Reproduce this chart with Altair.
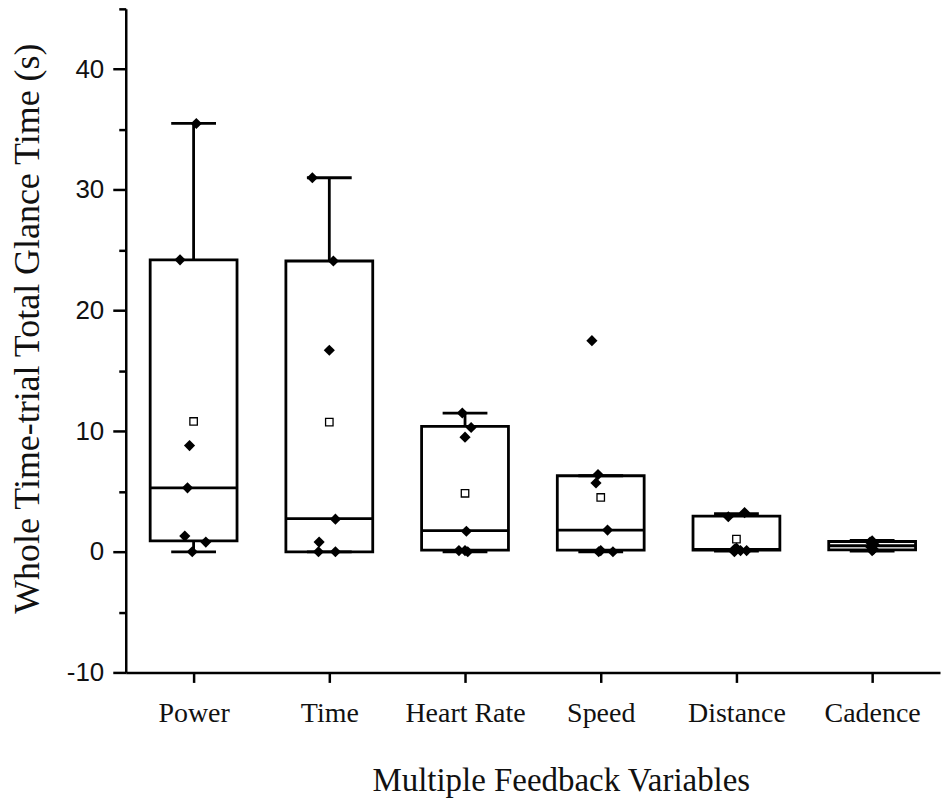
import altair as alt
import pandas as pd
import json

categories = ["Power", "Time", "Heart Rate", "Speed", "Distance", "Cadence"]
whisker_low = [0.0, 0.0, 0.0, 0.0, 0.05, 0.05]
q1 = [0.9, 0.0, 0.14, 0.14, 0.14, 0.15]
median = [5.3, 2.75, 1.75, 1.8, 0.2, 0.5]
q3 = [24.2, 24.1, 10.4, 6.3, 2.95, 0.85]
whisker_high = [35.5, 31.0, 11.5, 6.3, 3.15, 0.95]
mean = [10.8, 10.75, 4.85, 4.5, 1.05, 0.5]

# individual observations (value, horizontal jitter as fraction of category step)
pt_cat = (["Power"] * 7 + ["Time"] * 7 + ["Heart Rate"] * 7 + ["Speed"] * 7
          + ["Distance"] * 7 + ["Cadence"] * 7)
pt_val = [35.5, 24.2, 8.8, 5.3, 1.3, 0.8, 0.0,
          31.0, 24.1, 16.7, 2.7, 0.8, 0.0, 0.0,
          11.5, 10.3, 9.5, 1.7, 0.1, 0.1, 0.0,
          17.5, 6.4, 5.7, 1.8, 0.1, 0.0, 0.0,
          3.25, 2.9, 0.3, 0.2, 0.1, 0.1, 0.0,
          0.9, 0.8, 0.6, 0.5, 0.4, 0.2, 0.1]
pt_jit = [0.02, -0.10, -0.03, -0.045, -0.065, 0.09, -0.01,
          -0.125, 0.03, 0.0, 0.045, -0.075, -0.08, 0.045,
          -0.02, 0.045, 0.0, 0.01, -0.045, 0.0, 0.02,
          -0.065, -0.02, -0.035, 0.05, 0.0, 0.09, -0.015,
          0.06, -0.06, 0.0, -0.015, 0.075, 0.03, -0.015,
          0.0, -0.015, 0.015, 0.0, -0.01, 0.01, 0.0]

major_ticks = [-10, 0, 10, 20, 30, 40]
minor_ticks = [-5, 5, 15, 25, 35, 45]

idx_of = {c: i for i, c in enumerate(categories)}
stats = pd.DataFrame({"idx": list(range(len(categories))), "lo": whisker_low, "q1": q1,
                      "med": median, "q3": q3, "hi": whisker_high, "mean": mean})
pts = pd.DataFrame({"idx": [idx_of[c] for c in pt_cat], "val": pt_val, "jit": pt_jit})

W, H = 816, 665
BOX_HALF = 0.32
CAP_HALF = 0.165
yscale = alt.Scale(domain=[-10, 45], nice=False, zero=False)
xscale = alt.Scale(domain=[-0.5, len(categories) - 0.5], nice=False, zero=False)

serif = "Liberation Serif"
sans = "Liberation Sans"
label_expr = json.dumps(categories) + "[round(datum.value)]"

x_axis = alt.Axis(title="Multiple Feedback Variables", values=list(range(len(categories))),
                  labelExpr=label_expr, labelAngle=0, labelFont=serif, grid=False,
                  labelFontSize=28, labelColor="#111", labelPadding=17, tickSize=10,
                  tickWidth=2.5, tickColor="#000", domainColor="#000", domainWidth=2.5,
                  titleFont=serif, titleFontSize=33, titleFontWeight="normal",
                  titleColor="#111", titleX=436, titleY=118, titleBaseline="alphabetic")
y_axis = alt.Axis(title="Whole Time-trial Total Glance Time (s)", values=major_ticks,
                  labelExpr="datum.value + ''",
                  orient="left", grid=False, labelFont=sans, labelFontSize=26,
                  labelColor="#111", labelPadding=9, tickSize=13, tickWidth=2.5,
                  tickColor="#000", domainColor="#000", domainWidth=2.5,
                  titleFont=serif, titleFontSize=36, titleFontWeight="normal",
                  titleColor="#111", titleX=-98, titleY=320, titleBaseline="middle")
y_minor = alt.Axis(title=None, values=minor_ticks, orient="left", grid=False,
                   labels=False, domain=False, tickSize=7, tickWidth=2.5, tickColor="#000")

base = alt.Chart(stats).transform_calculate(
    bx1=f"datum.idx - {BOX_HALF}", bx2=f"datum.idx + {BOX_HALF}",
    cx1=f"datum.idx - {CAP_HALF}", cx2=f"datum.idx + {CAP_HALF}")

def X(field):
    return alt.X(field, type="quantitative", scale=xscale, axis=x_axis)

def Yn(field):
    return alt.Y(field, type="quantitative", scale=yscale, axis=None)

SW = 2.8
whisk = base.mark_rule(color="#000", strokeWidth=SW).encode(
    x=X("idx"), y=alt.Y("lo:Q", scale=yscale, axis=y_axis), y2="hi:Q")
box = base.mark_rect(fill="white", stroke="#000", strokeWidth=SW).encode(
    x=X("bx1"), x2="bx2", y=Yn("q1"), y2="q3")
cap_hi = base.mark_rule(color="#000", strokeWidth=SW).encode(
    x=X("cx1"), x2="cx2", y=Yn("hi"))
cap_lo = base.mark_rule(color="#000", strokeWidth=SW).encode(
    x=X("cx1"), x2="cx2", y=Yn("lo"))
med = base.mark_rule(color="#000", strokeWidth=SW).encode(
    x=X("bx1"), x2="bx2", y=Yn("med"))
mn = base.mark_point(shape="square", filled=False, fill="white", stroke="#000",
                     strokeWidth=1.3, size=56, opacity=1).encode(
    x=X("idx"), y=Yn("mean"))
dots = alt.Chart(pts).transform_calculate(px="datum.idx + datum.jit").mark_point(
    shape="diamond", filled=True, color="#000", size=125, opacity=1).encode(
    x=X("px"), y=Yn("val"))
minor = base.mark_point(opacity=0).encode(
    x=X("idx"), y=alt.Y("med:Q", scale=yscale, axis=y_minor))

chart = alt.layer(whisk, box, cap_hi, cap_lo, med, mn, dots, minor).resolve_scale(
    y="shared").resolve_axis(y="independent").properties(
    width=W, height=H, autosize=alt.AutoSizeParams(type="none"),
    padding={"left": 118, "top": 0, "right": 2, "bottom": 127},
    background="white").configure_view(stroke=None)

chart.save("out.html", embed_options={"renderer": "svg", "actions": False})
